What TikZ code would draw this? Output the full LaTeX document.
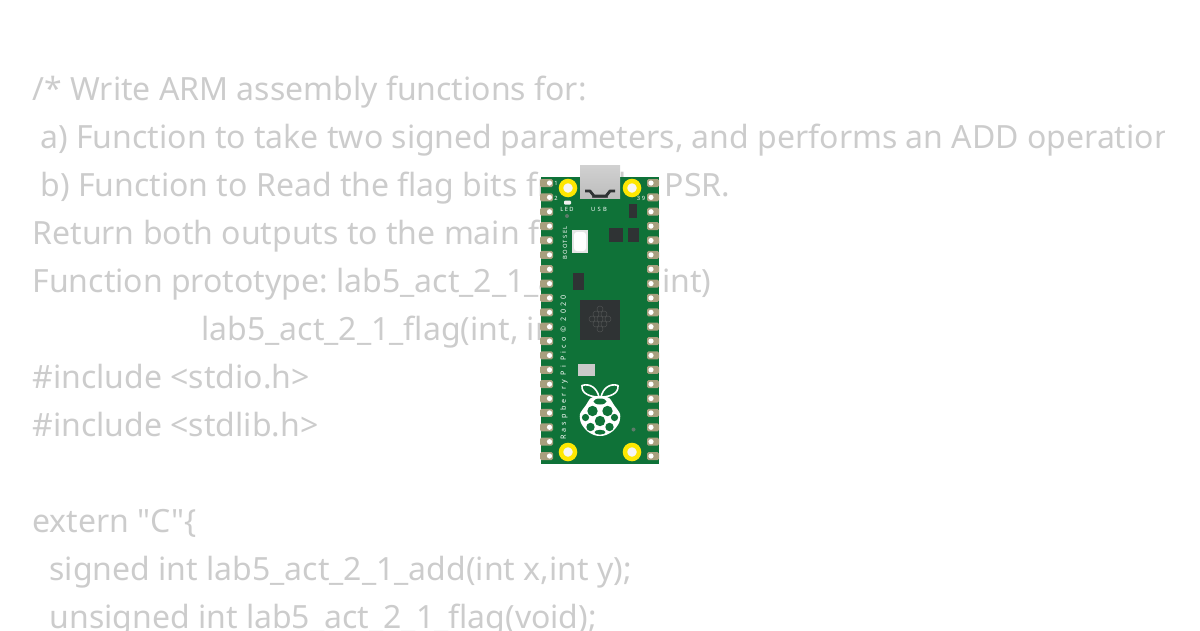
\documentclass[tikz,border=0pt]{standalone}
\usepackage{fontspec}
\setmainfont[Ligatures=TeXOff]{Noto Sans}
\frenchspacing
\usetikzlibrary{positioning,calc}
\definecolor{codegray}{HTML}{CCCCCC}
\definecolor{pcbgreen}{HTML}{0F7238}
\definecolor{padtan}{HTML}{A89F7E}
\definecolor{chipdark}{HTML}{2F3334}
\definecolor{usbgray}{HTML}{BDBDBD}
\begin{document}
\begin{tikzpicture}[x=1pt,y=-1pt]
    \tikzstyle{code}=[anchor=base west, inner sep=0pt, text=codegray, font=\fontsize{32}{40}\selectfont]
    \tikzstyle{silk}=[inner sep=0pt, text=white, font=\fontsize{5.8}{6}\selectfont\bfseries]
    \tikzstyle{chip}=[draw=none, fill=chipdark]
    \tikzstyle{mount}=[circle, draw=yellow!90!orange, fill=white!92!gray, line width=4.5pt, minimum width=14pt, inner sep=0pt]

    \useasboundingbox (0,0) rectangle (1200,630);
    \begin{scope}
    \clip (0,0) rectangle (1164,630);
    \node[code] (l1) at (32.3,100.2) {/* Write ARM assembly functions for:};
    \node[code] (l2) at (40.3,148.2) {a) Function to take two signed parameters, and performs an ADD operation};
    \node[code] (l3) at (40.3,196.2) {b) Function to Read the flag bits from the PSR.};
    \node[code] (l4) at (32.3,244.2) {Return both outputs to the main function.};
    \node[code] (l5) at (32.3,292.2) {Function prototype: lab5\_act\_2\_1\_add(int, int)};
    \node[code] (l6) at (201.3,340.2) {lab5\_act\_2\_1\_flag(int, int)};
    \node[code] (l7) at (32.3,388.2) {\#include <stdio.h>};
    \node[code] (l8) at (32.3,436.2) {\#include <stdlib.h>};
    \node[code] (l9) at (32.3,532.2) {extern "C"\{};
    \node[code] (l10) at (49.3,580.2) {signed int lab5\_act\_2\_1\_add(int x,int y);};
    \node[code] (l11) at (49.3,628.2) {unsigned int lab5\_act\_2\_1\_flag(void);};
    \end{scope}

    % board
    \fill[pcbgreen] (541,177) rectangle (659,464);
    \foreach \i in {0,...,19} {
        \fill[padtan, rounded corners=1.5pt] (540,{183+14.37*\i-4}) rectangle (553,{183+14.37*\i+4});
        \fill[white] (549.5,{183+14.37*\i}) circle (2.6);
        \fill[padtan, rounded corners=1.5pt] (647,{183+14.37*\i-4}) rectangle (659,{183+14.37*\i+4});
        \fill[white] (651,{183+14.37*\i}) circle (2.6);
    }

    % usb
    \shade[top color=usbgray!70!white, bottom color=usbgray] (580,165) rectangle (620,198);
    \fill[chipdark!70!usbgray] (592,195) rectangle (608,198);
    \draw[chipdark, line width=2.8pt, line join=round] (585,191) -- (590,191) -- (594,196) -- (606,196) -- (610,191) -- (615,191);

    \node[mount] (m1) at (568,188) {};
    \node[mount] (m2) at (632,188) {};
    \node[mount] (m3) at (568,452) {};
    \node[mount] (m4) at (632,452) {};

    % parts
    \fill[white!90!gray, rounded corners=1pt] (564,200.5) rectangle (571,204.5);
    \fill[gray!70!pcbgreen] (567,216) circle (2);
    \fill[gray!70!pcbgreen] (633.5,429.5) circle (2);
    \fill[chip] (629,204) rectangle (637,218);
    \fill[chip] (609,228) rectangle (623,242);
    \fill[chip] (628,228) rectangle (639,242);
    \fill[white!80!gray] (572,230) rectangle (588,253);
    \fill[white, rounded corners=3pt] (574,232) rectangle (586,251);
    \fill[chip] (573,273) rectangle (584,290);
    \fill[chip] (580,300) rectangle (620,340);
    \foreach \x/\y in {600/309,596/314,604/314,592/319,600/319,608/319,596/324,604/324,600/329}
        \draw[gray!40!chipdark, line width=0.5pt] (\x,\y) circle (3);
    \fill[usbgray!80!white] (578,364) rectangle (595,376);

    \node[silk] (t1) at (556,183) {1};
    \node[silk] (t2) at (556,198) {2};
    \node[silk] (t39) at (641,198) {\addfontfeature{LetterSpace=30}39};
    \node[silk] (led) at (567,209) {\addfontfeature{LetterSpace=25}LED};
    \node[silk] (usb) at (599,209) {\addfontfeature{LetterSpace=40}USB};
    \node[silk, rotate=90] (boot) at (565,243) {\addfontfeature{LetterSpace=24}BOOTSEL};
    \node[silk, rotate=90, font=\fontsize{7.2}{8}\selectfont\bfseries] (name) at (564,367.5) {\addfontfeature{LetterSpace=44}Raspberry Pi Pico © 2020};

    % logo
    \fill[white] plot[smooth cycle] coordinates {(600,396) (591,398) (586,405) (580,414) (581,423) (587,431) (594,435) (600,436) (606,435) (613,431) (619,423) (620,414) (614,405) (609,398)};
    \begin{scope}[pcbgreen]
    \fill (600,401.5) ellipse (6.5 and 3);
    \fill (592.5,411) circle (5.2);
    \fill (607.5,411) circle (5.2);
    \fill (585.5,417.5) circle (3.6);
    \fill (614.5,417.5) circle (3.6);
    \fill (600,421) circle (5.2);
    \fill (590.5,427) circle (4.2);
    \fill (609.5,427) circle (4.2);
    \fill (600,432.2) ellipse (5.5 and 2.4);
    \end{scope}
    \draw[white, fill=pcbgreen, line width=1.6pt, line join=round] (599,397) .. controls (591,397) and (581,394) .. (582,385.5) .. controls (590,383) and (597,388) .. (599,397);
    \draw[white, fill=pcbgreen, line width=1.6pt, line join=round] (601,397) .. controls (609,397) and (619,394) .. (618,385.5) .. controls (610,383) and (603,388) .. (601,397);
\end{tikzpicture}
\end{document}
